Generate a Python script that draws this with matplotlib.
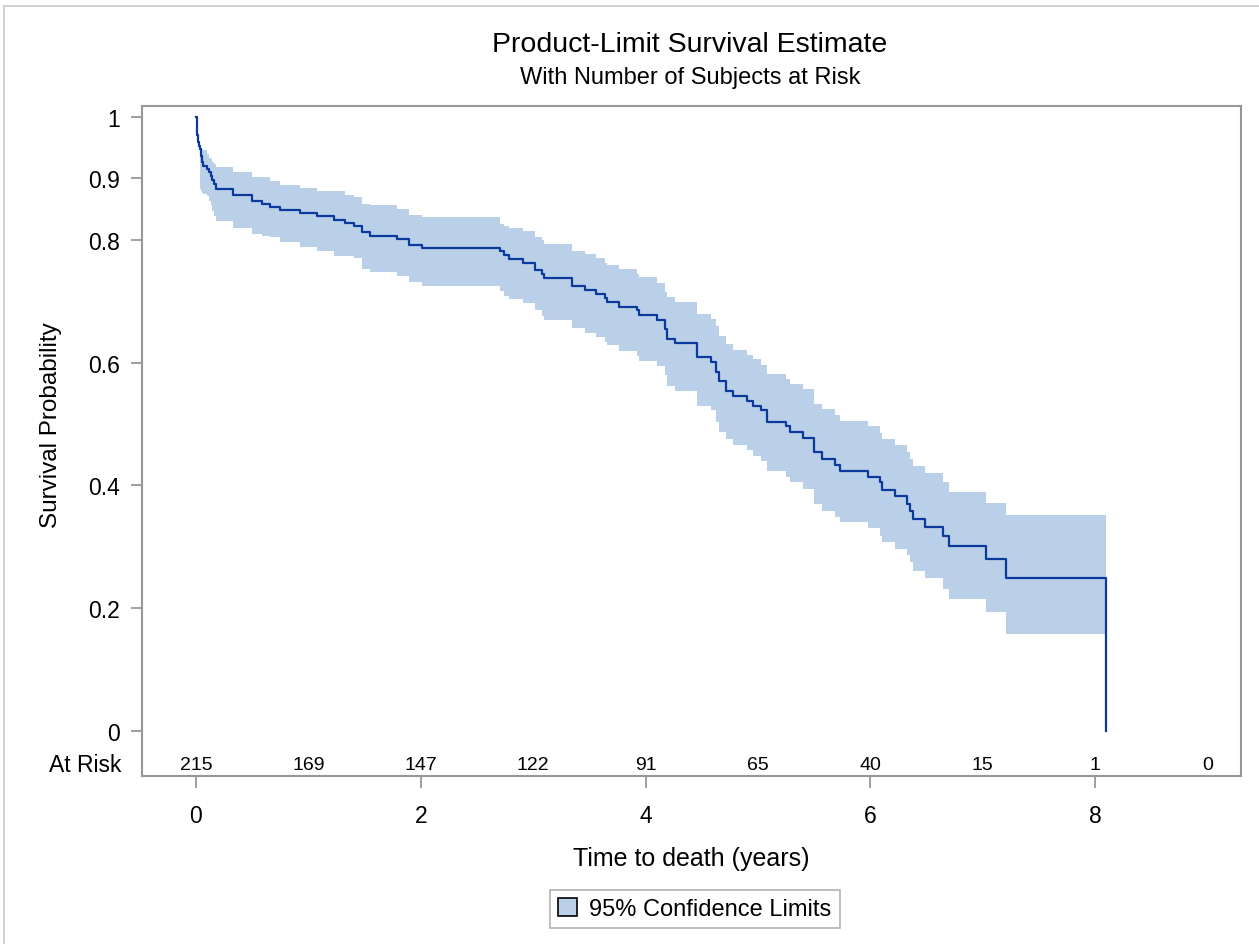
import matplotlib
matplotlib.use("Agg")
import matplotlib.pyplot as plt
from matplotlib.patches import Patch
from matplotlib.lines import Line2D

plt.rcParams['font.family'] = ['Liberation Sans', 'DejaVu Sans']

# Kaplan-Meier steps (time in years)
times = [0.000, 0.006, 0.012, 0.020, 0.027, 0.036, 0.045, 0.050, 0.060, 0.101,
         0.116, 0.131, 0.145, 0.160, 0.178, 0.333, 0.496, 0.585, 0.659, 0.748,
         0.927, 1.075, 1.224, 1.327, 1.402, 1.476, 1.550, 1.788, 1.891, 2.010,
         2.708, 2.738, 2.783, 2.910, 3.020, 3.079, 3.094, 3.347, 3.465, 3.555,
         3.643, 3.658, 3.762, 3.925, 3.940, 4.104, 4.170, 4.193, 4.258, 4.454,
         4.579, 4.623, 4.653, 4.713, 4.781, 4.900, 4.959, 5.025, 5.084, 5.247,
         5.283, 5.402, 5.494, 5.565, 5.684, 5.729, 5.978, 6.088, 6.100, 6.221,
         6.325, 6.355, 6.382, 6.486, 6.649, 6.702, 7.029, 7.207, 8.092]
surv = [1.000, 0.980, 0.970, 0.959, 0.953, 0.948, 0.937, 0.926, 0.921, 0.915,
        0.910, 0.904, 0.897, 0.891, 0.883, 0.873, 0.864, 0.858, 0.853, 0.849,
        0.843, 0.838, 0.833, 0.828, 0.823, 0.812, 0.807, 0.802, 0.792, 0.786,
        0.781, 0.775, 0.769, 0.763, 0.751, 0.744, 0.738, 0.725, 0.719, 0.712,
        0.705, 0.698, 0.691, 0.685, 0.678, 0.669, 0.655, 0.639, 0.632, 0.609,
        0.601, 0.585, 0.570, 0.554, 0.546, 0.538, 0.530, 0.522, 0.504, 0.496,
        0.487, 0.478, 0.454, 0.443, 0.434, 0.424, 0.413, 0.405, 0.393, 0.382,
        0.370, 0.358, 0.346, 0.333, 0.318, 0.301, 0.280, 0.249, 0.000]
lower = [1.000, 0.980, 0.970, 0.959, 0.953, 0.883, 0.880, 0.877, 0.875, 0.871,
         0.864, 0.856, 0.847, 0.839, 0.831, 0.820, 0.809, 0.807, 0.804, 0.797,
         0.789, 0.782, 0.774, 0.774, 0.771, 0.753, 0.747, 0.741, 0.731, 0.724,
         0.717, 0.709, 0.704, 0.697, 0.685, 0.676, 0.670, 0.656, 0.648, 0.641,
         0.634, 0.628, 0.619, 0.610, 0.603, 0.595, 0.579, 0.562, 0.554, 0.530,
         0.522, 0.503, 0.487, 0.476, 0.465, 0.457, 0.448, 0.440, 0.423, 0.413,
         0.405, 0.394, 0.370, 0.359, 0.348, 0.340, 0.330, 0.318, 0.308, 0.297,
         0.286, 0.275, 0.261, 0.249, 0.231, 0.215, 0.194, 0.158, 0.158]
upper = [1.000, 0.980, 0.970, 0.959, 0.953, 0.951, 0.950, 0.948, 0.946, 0.940,
         0.934, 0.932, 0.927, 0.923, 0.918, 0.911, 0.902, 0.902, 0.896, 0.890,
         0.885, 0.880, 0.880, 0.873, 0.869, 0.858, 0.856, 0.850, 0.841, 0.837,
         0.826, 0.823, 0.820, 0.815, 0.804, 0.799, 0.793, 0.782, 0.777, 0.770,
         0.763, 0.759, 0.752, 0.744, 0.740, 0.730, 0.715, 0.707, 0.699, 0.679,
         0.671, 0.660, 0.644, 0.630, 0.620, 0.612, 0.606, 0.596, 0.581, 0.574,
         0.565, 0.557, 0.532, 0.524, 0.515, 0.505, 0.496, 0.486, 0.476, 0.465,
         0.454, 0.443, 0.431, 0.420, 0.405, 0.390, 0.372, 0.352, 0.352]

risk_times = [0, 1, 2, 3, 4, 5, 6, 7, 8, 9]
at_risk = [215, 169, 147, 122, 91, 65, 40, 15, 1, 0]

line_col = '#0b3a9c'
band_col = '#bacfe8'
frame_col = '#979797'

fig = plt.figure(figsize=(12.59, 9.45), dpi=100)
ax = fig.add_axes([0.1128, 0.1778, 0.9857 - 0.1128, 0.8868 - 0.1778])

ax.fill_between(times, lower, upper, step='post', color=band_col, lw=0)
ax.step(times, surv, where='post', color=line_col, lw=1.6)

ax.set_xlim(-0.48, 9.297)
ax.set_ylim(-0.0733, 1.018)

ax.set_xticks([0, 2, 4, 6, 8])
ax.set_yticks([0, 0.2, 0.4, 0.6, 0.8, 0.9, 1])
ax.set_yticklabels(['0', '0.2', '0.4', '0.6', '0.8', '0.9', '1'])
ax.tick_params(axis='x', length=8.5, width=1.3, color=frame_col, labelsize=16.5, pad=12)
ax.tick_params(axis='y', length=8, width=1.3, color=frame_col, labelsize=16.5, pad=8)
for s in ax.spines.values():
    s.set_color(frame_col)
    s.set_linewidth(1.5)

# number at risk row inside the frame
for t, n in zip(risk_times, at_risk):
    ax.text(t, -0.055, str(n), ha='center', va='center', fontsize=14)
ax.text(-0.66, -0.055, 'At Risk', ha='right', va='center', fontsize=16.5, clip_on=False)

ax.set_xlabel('Time to death (years)', fontsize=18, labelpad=13)
ax.text(-1.29, 0.5, 'Survival Probability', rotation=90, ha='center', va='center',
        fontsize=17.5, clip_on=False)

fig.text(0.548, 0.952, 'Product-Limit Survival Estimate', ha='center', va='center', fontsize=20.5)
fig.text(0.548, 0.917, 'With Number of Subjects at Risk', ha='center', va='center', fontsize=17)

leg = fig.legend(handles=[Patch(facecolor=band_col, edgecolor='black', lw=1.2)],
                 labels=['95% Confidence Limits'], loc='center',
                 bbox_to_anchor=(0.552, 0.037), fontsize=17, frameon=True, fancybox=False,
                 handlelength=0.8, handleheight=0.8, handletextpad=0.5, borderpad=0.35)
leg.get_frame().set_edgecolor('#a0a0a0')
leg.get_frame().set_linewidth(1.2)

# light outer border, top and left
fig.add_artist(Line2D([0.0032, 1.0], [0.9926, 0.9926], color='#c8c8c8', lw=1.2))
fig.add_artist(Line2D([0.0032, 0.0032], [0.0, 0.9926], color='#c8c8c8', lw=1.2))

fig.savefig('out.png', dpi=100)
